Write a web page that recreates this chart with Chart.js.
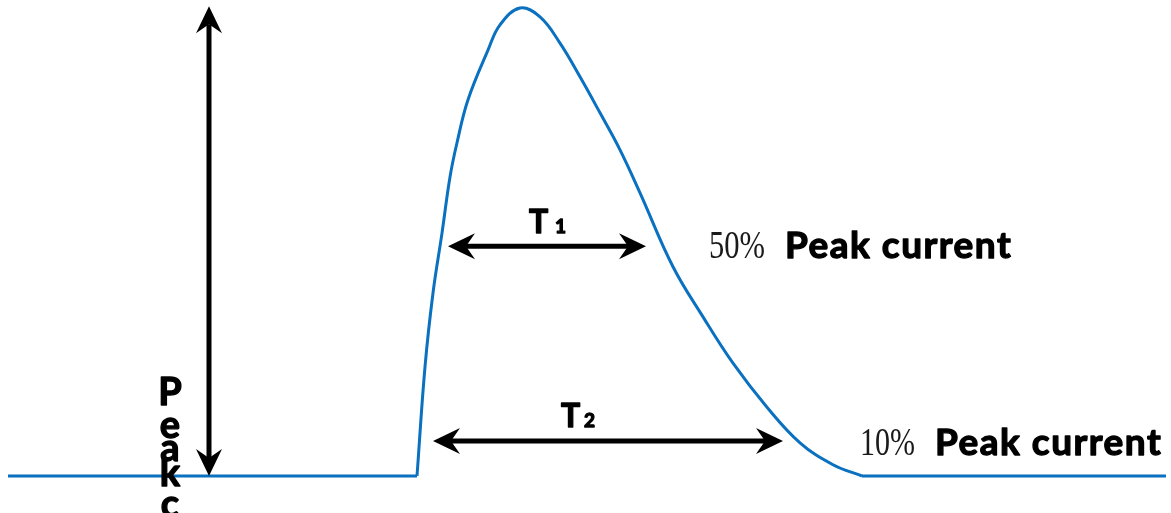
<!DOCTYPE html>
<html>
<head>
<meta charset="utf-8">
<script src="https://cdn.jsdelivr.net/npm/chart.js@4/dist/chart.umd.min.js"></script>
<style>
  html, body { margin: 0; padding: 0; background: #fff; }
  canvas { display: block; }
</style>
</head>
<body>
<canvas id="pulseChart" width="1171" height="513"></canvas>
<script>
// Pulse shape (time in arbitrary units, current in % of peak)
const pulseTime    = [41.7, 42.5, 43.3, 44.2, 45.0, 45.7, 46.8, 48.8, 50.0, 52.0, 54.0, 56.0, 58.0, 60.0, 62.0, 64.0, 67.3, 70.3, 73.3, 76.7, 80.0, 83.3, 86.2];
const pulseCurrent = [0, 23.3, 39.1, 51.9, 63.9, 71.2, 80.4, 91.0, 96.4, 100, 98.1, 92.5, 85.3, 77.6, 69.7, 60.5, 44.7, 34.0, 24.1, 14.7, 7.1, 2.4, 0];

// Flat baseline before and after the pulse
const baseBeforeTime = [0.8, 41.7];
const baseAfterTime  = [86.2, 116.6];
const baseCurrent    = [0, 0];

// Measurement markers
const peakArrowTime = 20.9;
const peakRange     = [0, 100.4];
const t1Level = 49.1;
const t1Span  = [44.8, 64.6];
const t2Level = 7.5;
const t2Span  = [43.3, 78.3];

const blue = '#0a70c0';

const toPoints = (xs, ys) => xs.map((x, i) => ({ x: x, y: ys[i] }));

// draws a double-headed arrow with notched heads
function arrow(ctx, x1, y1, x2, y2) {
    const len = 27, half = 13, notch = 9;
    const ang = Math.atan2(y2 - y1, x2 - x1);
    const cos = Math.cos(ang), sin = Math.sin(ang);
    ctx.save();
    ctx.strokeStyle = '#000';
    ctx.fillStyle = '#000';
    ctx.lineWidth = 5;
    ctx.beginPath();
    ctx.moveTo(x1 + cos * (len - notch), y1 + sin * (len - notch));
    ctx.lineTo(x2 - cos * (len - notch), y2 - sin * (len - notch));
    ctx.stroke();
    [[x1, y1, 1], [x2, y2, -1]].forEach(([tx, ty, d]) => {
        const bx = tx + d * cos * len, by = ty + d * sin * len;
        ctx.beginPath();
        ctx.moveTo(tx, ty);
        ctx.lineTo(bx - sin * half, by + cos * half);
        ctx.lineTo(tx + d * cos * (len - notch), ty + d * sin * (len - notch));
        ctx.lineTo(bx + sin * half, by - cos * half);
        ctx.closePath();
        ctx.fill();
    });
    ctx.restore();
}

// heavy text: fill plus a thin outline to thicken the strokes
function heavyText(ctx, text, x, y, maxW) {
    ctx.fillText(text, x, y, maxW);
    ctx.strokeText(text, x, y, maxW);
}

const markers = {
    id: 'markers',
    afterDatasetsDraw(chart) {
        const ctx = chart.ctx;
        const xs = chart.scales.x, ys = chart.scales.y;

        arrow(ctx, xs.getPixelForValue(peakArrowTime), ys.getPixelForValue(peakRange[1]),
                   xs.getPixelForValue(peakArrowTime), ys.getPixelForValue(peakRange[0]));
        arrow(ctx, xs.getPixelForValue(t1Span[0]), ys.getPixelForValue(t1Level),
                   xs.getPixelForValue(t1Span[1]), ys.getPixelForValue(t1Level));
        arrow(ctx, xs.getPixelForValue(t2Span[0]), ys.getPixelForValue(t2Level),
                   xs.getPixelForValue(t2Span[1]), ys.getPixelForValue(t2Level));

        ctx.save();
        ctx.fillStyle = '#000';
        ctx.strokeStyle = '#000';
        ctx.lineWidth = 1.3;
        ctx.lineJoin = 'round';
        ctx.textBaseline = 'alphabetic';

        // T1 / T2 labels
        ctx.textAlign = 'left';
        ctx.font = 'bold 32px Lato';
        heavyText(ctx, 'T', 529, 233);
        heavyText(ctx, 'T', 561, 427);
        ctx.font = 'bold 19px Lato';
        heavyText(ctx, '1', 555, 233);
        heavyText(ctx, '2', 584, 427);

        // level captions
        ctx.fillStyle = '#1a1a1a';
        ctx.font = '40px "Liberation Serif"';
        ctx.fillText('50%', 709, 258, 56);
        ctx.fillText('10%', 860, 455, 55);
        ctx.fillStyle = '#000';
        ctx.font = 'bold 37px Lato';
        ctx.letterSpacing = '1.5px';
        heavyText(ctx, 'Peak current', 785, 258, 228);
        heavyText(ctx, 'Peak current', 935, 455, 228);
        ctx.letterSpacing = '0px';

        // stacked vertical caption
        ctx.textAlign = 'center';
        ctx.font = 'bold 38px Lato';
        const stackBase = [405, 438, 461, 486, 517];
        'Peakc'.split('').forEach((ch, i) => {
            heavyText(ctx, ch, 170, stackBase[i]);
        });
        ctx.restore();
    }
};

new Chart(document.getElementById('pulseChart').getContext('2d'), {
    type: 'line',
    data: {
        datasets: [
            { data: toPoints(baseBeforeTime, baseCurrent), tension: 0 },
            { data: toPoints(pulseTime, pulseCurrent), tension: 0.4 },
            { data: toPoints(baseAfterTime, baseCurrent), tension: 0 }
        ].map(ds => Object.assign(ds, {
            borderColor: blue,
            borderWidth: 3,
            pointRadius: 0,
            fill: false
        }))
    },
    options: {
        responsive: false,
        animation: false,
        devicePixelRatio: 1,
        layout: { padding: 0 },
        plugins: {
            legend: { display: false },
            tooltip: { enabled: false }
        },
        scales: {
            x: { type: 'linear', min: 0, max: 117.1, display: false },
            y: { min: -7.91, max: 101.71, display: false }
        }
    },
    plugins: [markers]
});
</script>
</body>
</html>
